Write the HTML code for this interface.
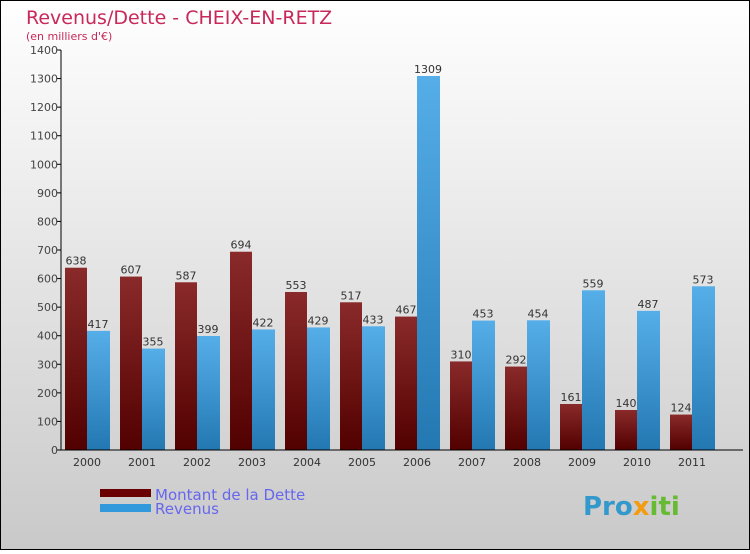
<!DOCTYPE html>
<html><head><meta charset="utf-8"><style>
body{margin:0}
#c{position:relative;width:750px;height:550px;font-family:"DejaVu Sans","Liberation Sans",sans-serif;}
svg text{font-family:"DejaVu Sans","Liberation Sans",sans-serif}
</style></head><body>
<div id="c">
<svg id="s" width="750" height="550" xmlns="http://www.w3.org/2000/svg">
<defs>
<linearGradient id="bg" x1="0" y1="0" x2="0" y2="1"><stop offset="0" stop-color="#ffffff"/><stop offset="1" stop-color="#c9c9c9"/></linearGradient>
<linearGradient id="gd" x1="0" y1="0" x2="0" y2="1"><stop offset="0" stop-color="#8a2a2a"/><stop offset="1" stop-color="#520000"/></linearGradient>
<linearGradient id="gr" x1="0" y1="0" x2="0" y2="1"><stop offset="0" stop-color="#56aee8"/><stop offset="1" stop-color="#2378b2"/></linearGradient>
</defs>
<rect x="0.5" y="0.5" width="749" height="549" fill="url(#bg)" stroke="#000"/>
<text x="26" y="24" font-size="19" fill="#c8285a">Revenus/Dette - CHEIX-EN-RETZ</text>
<text x="26" y="40" font-size="11" fill="#c8285a">(en milliers d'€)</text>
<g id="plot"></g>
<rect x="100" y="489" width="51" height="8" fill="#6a0000"/>
<rect x="100" y="504" width="51" height="8" fill="#3399dd"/>
<text x="155" y="500" font-size="15" fill="#6666ee">Montant de la Dette</text>
<text x="155" y="514" font-size="15" fill="#6666ee">Revenus</text>
<text x="583" y="515" font-size="26" font-weight="bold" fill="#3399cc">Pro<tspan fill="#f39c12">x</tspan><tspan fill="#66bb33">iti</tspan></text>
</svg></div>
<script>
const years=["2000","2001","2002","2003","2004","2005","2006","2007","2008","2009","2010","2011"];
const dette=[638,607,587,694,553,517,467,310,292,161,140,124];
const revenus=[417,355,399,422,429,433,1309,453,454,559,487,573];
const ticks=[0,100,200,300,400,500,600,700,800,900,1000,1100,1200,1300,1400];
const NS="http://www.w3.org/2000/svg";
const g=document.getElementById('plot');
const x0=61,y0=450,yTop=50,gw=55,maxV=1400;
const y=v=>y0-(v/maxV)*(y0-yTop);
function el(t,a){const e=document.createElementNS(NS,t);for(const k in a)e.setAttribute(k,a[k]);g.appendChild(e);return e;}
ticks.forEach(t=>{
 const tl=el('line',{x1:x0-4,x2:x0,y1:y(t),y2:y(t),stroke:'#000'});
 
 
 const tx=el('text',{x:x0-3,y:y(t)+4,'font-size':11,fill:'#444','text-anchor':'end'});
 tx.textContent=t;
 
 
});
years.forEach((yr,i)=>{
 const bx=x0+4+i*gw;
 const b1=el('rect',{x:bx,y:y(dette[i]),width:22,height:y0-y(dette[i]),fill:'url(#gd)'});
 
 
 const b2=el('rect',{x:bx+22,y:y(revenus[i]),width:23,height:y0-y(revenus[i]),fill:'url(#gr)'});
 
 
 const l1=el('text',{x:bx+11,y:y(dette[i])-3,'font-size':11,fill:'#333','text-anchor':'middle'});
 l1.textContent=dette[i];
 
 
 const l2=el('text',{x:bx+33,y:y(revenus[i])-3,'font-size':11,fill:'#333','text-anchor':'middle'});
 l2.textContent=revenus[i];
 
 
 const xl=el('text',{x:bx+22,y:466,'font-size':11,fill:'#333','text-anchor':'middle'});
 xl.textContent=yr;
 
 
});
const ax=el('line',{x1:x0,x2:x0,y1:yTop,y2:y0,stroke:'#000'});


const axx=el('line',{x1:x0,x2:743,y1:y0,y2:y0,stroke:'#000'});


</script>
</body></html>
